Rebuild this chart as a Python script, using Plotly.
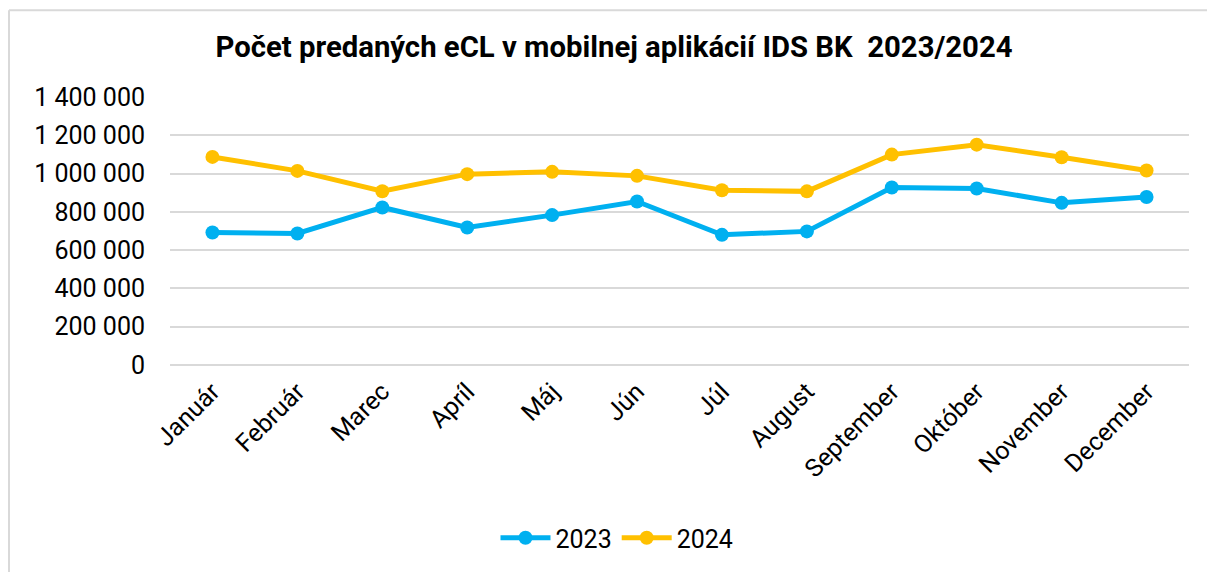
import plotly.graph_objects as go

months = ["Január", "Február", "Marec", "Apríl", "Máj", "Jún", "Júl",
          "August", "September", "Október", "November", "December"]
y2023 = [692000, 687000, 823000, 718000, 783000, 854000, 680000,
         698000, 927000, 922000, 847000, 878000]
y2024 = [1087000, 1014000, 908000, 997000, 1009000, 988000, 913000,
         907000, 1099000, 1151000, 1085000, 1016000]
tick_vals = [0, 200000, 400000, 600000, 800000, 1000000, 1200000, 1400000]

W, H = 1207, 572
L, R, T, B = 170, 18, 97, 206

fig = go.Figure()
fig.add_trace(go.Scatter(x=months, y=y2023, name="2023", mode="lines+markers",
                         line=dict(color="#00B0F0", width=5),
                         marker=dict(color="#00B0F0", size=14)))
fig.add_trace(go.Scatter(x=months, y=y2024, name="2024", mode="lines+markers",
                         line=dict(color="#FFC000", width=5),
                         marker=dict(color="#FFC000", size=14)))

pw = W - L - R
ph = H - T - B


def px_x(p):
    return (p - L) / pw


def px_y(p):
    return 1 - (p - T) / ph


# frame: left and top edges only (rest runs off the image)
fig.add_shape(type="line", xref="paper", yref="paper",
              x0=px_x(9), x1=px_x(9), y0=px_y(10), y1=px_y(H + 5),
              line=dict(color="#d9d9d9", width=2), layer="below")
fig.add_shape(type="line", xref="paper", yref="paper",
              x0=px_x(9), x1=px_x(W + 5), y0=px_y(10), y1=px_y(10),
              line=dict(color="#d9d9d9", width=2), layer="below")

fig.update_layout(
    width=W, height=H,
    margin=dict(l=L, r=R, t=T, b=B, pad=0),
    paper_bgcolor="white", plot_bgcolor="white",
    separators=", ",
    font=dict(family="Roboto", color="#000000"),
    title=dict(text="<b>Počet predaných eCL v mobilnej aplikácií IDS BK  2023/2024</b>",
               x=614 / W, xanchor="center", y=1 - 47 / H, yanchor="middle",
               font=dict(size=29.3, family="Roboto", color="#000000")),
    xaxis=dict(showgrid=False, tickangle=-45, tickfont=dict(size=25),
               range=[-0.5, len(months) - 0.5],
               showline=False, ticks="", ticklabelstandoff=6),
    yaxis=dict(range=[0, 1400000], tickvals=tick_vals, tickformat=",d",
               tickfont=dict(size=25), gridcolor="#d9d9d9", gridwidth=2,
               zeroline=True, zerolinecolor="#d9d9d9", zerolinewidth=2,
               ticks="", ticklabelstandoff=24, showline=False),
    showlegend=True,
    legend=dict(orientation="h", x=px_x(617), xanchor="center",
                y=px_y(538), yanchor="middle",
                font=dict(size=25), itemwidth=50),
)

fig.write_html("out.html", post_script="document.body.style.margin='0';",
               config={"displayModeBar": False})
